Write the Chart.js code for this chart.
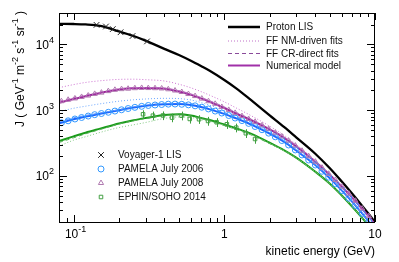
<!DOCTYPE html>
<html>
<head>
<meta charset="utf-8">
<script src="https://cdn.jsdelivr.net/npm/chart.js@4.4.0/dist/chart.umd.min.js"></script>
<style>
  html, body { margin: 0; padding: 0; background: #fff; }
</style>
</head>
<body>
<canvas id="fluxChart" width="399" height="262"></canvas>
<script>
// energy grid of the model curves (GeV)
const energyGrid = [0.08, 0.1, 0.12, 0.15, 0.2, 0.25, 0.3, 0.4, 0.5, 0.6, 0.7, 0.8, 1, 1.2, 1.5, 2, 2.5, 3, 4, 5, 6, 7, 8, 9, 10];

const protonLIS = [20500, 20400, 20100, 19100, 15800, 13400, 11400, 8550, 6900, 5650, 4700, 3980, 2880, 2150, 1430, 835, 552, 387, 220, 132, 83, 55, 38, 27.2, 19.9];

const model2008 = [1300, 1480, 1630, 1830, 2070, 2150, 2170, 2120, 1920, 1710, 1510, 1340, 1080, 890, 710, 510, 380, 282, 166, 105, 70, 48, 34, 25, 18.5];
const nm2008 = [2200, 2450, 2640, 2800, 2940, 2960, 2910, 2780, 2480, 2190, 1920, 1690, 1340, 1080, 830, 571, 414, 302, 174, 108, 71.4, 48.7, 34.3, 25.2, 18.7];
const cr2008 = [1365, 1547, 1695, 1885, 2111, 2193, 2213, 2173, 1978, 1770, 1563, 1394, 1123, 926, 735, 525, 390, 288, 168, 106, 71, 48, 34, 25, 18.5];

const model2006 = [630, 730, 800, 880, 1000, 1100, 1170, 1230, 1240, 1200, 1120, 1030, 880, 750, 610, 440, 330, 244, 148, 93, 61, 41.5, 29, 21, 15.5];
const nm2006 = [950, 1070, 1150, 1250, 1370, 1440, 1480, 1515, 1500, 1430, 1310, 1190, 985, 820, 660, 470, 345, 254, 150, 95, 62, 42, 29.3, 21.2, 15.6];
const cr2006 = [668, 767, 832, 906, 1020, 1122, 1193, 1267, 1290, 1260, 1176, 1082, 924, 788, 637, 458, 342, 251, 151, 95, 62, 42, 29, 21, 15.5];

const model2014 = [340, 400, 455, 525, 630, 705, 760, 845, 868, 830, 765, 710, 605, 530, 440, 320, 245, 190, 117, 77, 51, 35, 24.8, 18, 13.3];
const nm2014 = [285, 350, 395, 460, 545, 600, 650, 750, 790, 775, 720, 680, 590, 520, 430, 315, 243, 189, 117, 77, 51, 35, 24.8, 18, 13.3];
const cr2014 = [323, 380, 437, 509, 617, 691, 745, 828, 851, 813, 746, 689, 584, 509, 422, 310, 240, 187, 116, 76, 51, 35, 24.8, 18, 13.3];

// measurements
const voyagerE = [0.142, 0.164, 0.182, 0.205, 0.246, 0.307];
const voyagerJ = [19800, 18700, 17100, 15300, 13400, 11100];

const pamelaE = [0.083, 0.092, 0.102, 0.113, 0.125, 0.138, 0.153, 0.17, 0.188, 0.208, 0.23, 0.255, 0.283, 0.313, 0.347, 0.384, 0.425, 0.471, 0.522, 0.578, 0.64, 0.709, 0.785, 0.87, 0.963, 1.07, 1.18, 1.31, 1.45, 1.6, 1.78, 1.97, 2.18, 2.41, 2.67, 2.96, 3.28, 3.63, 4.02, 4.45, 4.93, 5.46, 6.05, 6.7, 7.42, 8.22, 9.1];
const pamela2006 = [645, 690, 735, 775, 815, 855, 890, 930, 970, 1015, 1060, 1105, 1145, 1180, 1200, 1220, 1235, 1240, 1230, 1205, 1165, 1110, 1045, 970, 905, 830, 760, 695, 630, 565, 505, 448, 394, 346, 296, 249, 209, 175, 147, 118, 96, 76, 60, 46, 35.5, 27, 20.3];
const pamela2008 = [1370, 1440, 1510, 1590, 1670, 1770, 1850, 1950, 2040, 2090, 2120, 2160, 2180, 2170, 2160, 2140, 2080, 1990, 1890, 1760, 1640, 1500, 1370, 1250, 1120, 1010, 910, 815, 735, 665, 590, 520, 455, 400, 345, 290, 242, 200, 165, 134, 108, 87, 69, 54, 42, 32, 24.5];

const ephinE = [0.289, 0.336, 0.392, 0.45, 0.52, 0.59, 0.68, 0.78, 0.89, 1.04, 1.2, 1.39, 1.6];
const ephinJ = [868, 826, 832, 771, 826, 736, 729, 686, 656, 611, 543, 446, 365];
const ephinErr = [130, 125, 125, 115, 125, 110, 110, 105, 100, 92, 82, 68, 56];

const FONT = '"Liberation Sans", Arial, Helvetica, sans-serif';

function pts(xs, ys) {
  return xs.map((x, i) => ({ x, y: ys[i] }));
}

function curve(values, color, width, dash) {
  return {
    data: pts(energyGrid, values),
    showLine: true,
    borderColor: color,
    borderWidth: width,
    borderDash: dash || [],
    pointRadius: 0,
    cubicInterpolationMode: 'monotone',
    order: 2
  };
}

function markers(xs, ys, style, color, radius) {
  return {
    data: pts(xs, ys),
    showLine: false,
    pointStyle: style,
    pointRadius: radius,
    pointBorderColor: color,
    pointBackgroundColor: 'rgba(0,0,0,0)',
    pointBorderWidth: 1,
    order: 0
  };
}

// text with superscripts: parts = [[text, isSup], ...]
function richText(ctx, parts, x, y, align, size) {
  const sup = Math.round(size * 0.72);
  let w = 0;
  parts.forEach(([t, s]) => { ctx.font = (s ? sup : size) + 'px ' + FONT; w += ctx.measureText(t).width; });
  let cx = align === 'right' ? x - w : align === 'center' ? x - w / 2 : x;
  parts.forEach(([t, s]) => {
    ctx.font = (s ? sup : size) + 'px ' + FONT;
    ctx.fillText(t, cx, s ? y - size * 0.42 : y);
    cx += ctx.measureText(t).width;
  });
}

const decorations = {
  id: 'decorations',
  afterDatasetsDraw(chart) {
    const { ctx, chartArea: a, scales: { x, y } } = chart;
    ctx.save();

    // EPHIN error bars
    ctx.strokeStyle = '#3fa03f';
    ctx.lineWidth = 1;
    ephinE.forEach((e, i) => {
      const px = Math.round(x.getPixelForValue(e)) + 0.5;
      ctx.beginPath();
      ctx.moveTo(px, y.getPixelForValue(ephinJ[i] + ephinErr[i]));
      ctx.lineTo(px, y.getPixelForValue(ephinJ[i] - ephinErr[i]));
      ctx.stroke();
    });

    // frame
    ctx.strokeStyle = '#000';
    ctx.lineWidth = 1;
    ctx.strokeRect(Math.round(a.left) + 0.5, Math.round(a.top) + 0.5, Math.round(a.right - a.left) - 1, Math.round(a.bottom - a.top));

    // ticks, ROOT style (inside, mirrored)
    ctx.beginPath();
    [0.01, 0.1, 1, 10].forEach(d => {
      for (let m = 1; m < 10; m++) {
        const v = d * m;
        if (v < x.min - 1e-9 || v > x.max + 1e-9) continue;
        const px = Math.round(x.getPixelForValue(v)) + 0.5;
        const len = m === 1 ? 7 : 4;
        ctx.moveTo(px, a.bottom); ctx.lineTo(px, a.bottom - len);
        ctx.moveTo(px, a.top); ctx.lineTo(px, a.top + len);
      }
    });
    [10, 100, 1000, 10000].forEach(d => {
      for (let m = 1; m < 10; m++) {
        const v = d * m;
        if (v < y.min - 1e-9 || v > y.max + 1e-9) continue;
        const py = Math.round(y.getPixelForValue(v)) + 0.5;
        const len = m === 1 ? 8 : 4;
        ctx.moveTo(a.left, py); ctx.lineTo(a.left + len, py);
        ctx.moveTo(a.right, py); ctx.lineTo(a.right - len, py);
      }
    });
    ctx.stroke();

    // tick labels
    ctx.fillStyle = '#000';
    ctx.textBaseline = 'middle';
    [[100, '2'], [1000, '3'], [10000, '4']].forEach(([v, p]) => {
      richText(ctx, [['10', false], [p, true]], 54, y.getPixelForValue(v) + 1, 'right', 12);
    });
    richText(ctx, [['10', false], ['-1', true]], x.getPixelForValue(0.1) + 2, 235, 'center', 12);
    richText(ctx, [['1', false]], x.getPixelForValue(1), 235, 'center', 12);
    richText(ctx, [['10', false]], x.getPixelForValue(10), 235, 'center', 12);

    // axis titles
    richText(ctx, [['kinetic energy (GeV)', false]], a.right, 252, 'right', 12);
    ctx.save();
    ctx.translate(21, 11);
    ctx.rotate(-Math.PI / 2);
    richText(ctx, [['J ( GeV', false], ['-1', true], [' m', false], ['-2', true], [' s', false], ['-1', true], [' sr', false], ['-1', true], [' )', false]], 0, 0, 'right', 12);
    ctx.restore();

    // legend: curves
    const lineItems = [
      ['Proton LIS', '#000', 2.5, []],
      ['FF NM-driven fits', '#c070c8', 1, [1, 2]],
      ['FF CR-direct fits', '#8a4a9a', 1, [4, 3]],
      ['Numerical model', '#a030a8', 2, []]
    ];
    const lineRows = [27, 41, 53.5, 65.5];
    lineItems.forEach(([label, color, w, dash], i) => {
      ctx.strokeStyle = color;
      ctx.lineWidth = w;
      ctx.setLineDash(dash);
      ctx.beginPath();
      ctx.moveTo(228, lineRows[i]);
      ctx.lineTo(260, lineRows[i]);
      ctx.stroke();
      ctx.setLineDash([]);
      ctx.fillStyle = '#111';
      ctx.font = '10px ' + FONT;
      ctx.textAlign = 'left';
      ctx.fillText(label, 266, lineRows[i] + 0.5);
    });

    // legend: data
    const markItems = [
      ['Voyager-1 LIS', 'crossRot', '#222', 4],
      ['PAMELA July 2006', 'circle', '#3399ff', 3],
      ['PAMELA July 2008', 'triangle', '#b07ab0', 3],
      ['EPHIN/SOHO 2014', 'rect', '#44a044', 2.5]
    ];
    const markRows = [155, 169, 183, 197];
    markItems.forEach(([label, style, color, r], i) => {
      ctx.strokeStyle = color;
      ctx.fillStyle = 'rgba(0,0,0,0)';
      ctx.lineWidth = 1;
      Chart.helpers.drawPoint(ctx, { pointStyle: style, radius: r, rotation: 0, borderWidth: 1 }, 101, markRows[i]);
      ctx.fillStyle = '#111';
      ctx.font = '10px ' + FONT;
      ctx.fillText(label, 118, markRows[i] + 0.5);
    });

    ctx.restore();
  }
};

new Chart(document.getElementById('fluxChart'), {
  type: 'scatter',
  data: {
    datasets: [
      markers(voyagerE, voyagerJ, 'crossRot', '#222', 4),
      markers(pamelaE, pamela2008, 'triangle', '#b07ab0', 3),
      markers(pamelaE, pamela2006, 'circle', '#3399ff', 3),
      markers(ephinE, ephinJ, 'rect', '#44a044', 2.5),
      curve(nm2008, '#cc70d0', 1, [1, 2]),
      curve(nm2006, '#6aa6ff', 1, [1, 2]),
      curve(nm2014, '#80c880', 1, [1, 2]),
      curve(cr2008, '#b868c0', 1, [4, 3]),
      curve(cr2006, '#5a98ff', 1, [4, 3]),
      curve(cr2014, '#58b058', 1, [4, 3]),
      curve(model2014, '#1a9c1a', 2),
      curve(model2006, '#1a66ff', 2),
      curve(model2008, '#9c249c', 2),
      curve(protonLIS, '#000', 2.3)
    ]
  },
  options: {
    responsive: false,
    animation: false,
    devicePixelRatio: 1,
    layout: { padding: { left: 0, right: 24, top: 13, bottom: 0 } },
    plugins: { legend: { display: false }, tooltip: { enabled: false } },
    scales: {
      x: {
        type: 'logarithmic',
        min: 0.08,
        max: 10,
        grid: { display: false },
        border: { display: false },
        ticks: { display: false },
        afterFit(s) { s.height = 40; }
      },
      y: {
        type: 'logarithmic',
        min: 20,
        max: 30000,
        grid: { display: false },
        border: { display: false },
        ticks: { display: false },
        afterFit(s) { s.width = 59; }
      }
    }
  },
  plugins: [decorations]
});
</script>
</body>
</html>
